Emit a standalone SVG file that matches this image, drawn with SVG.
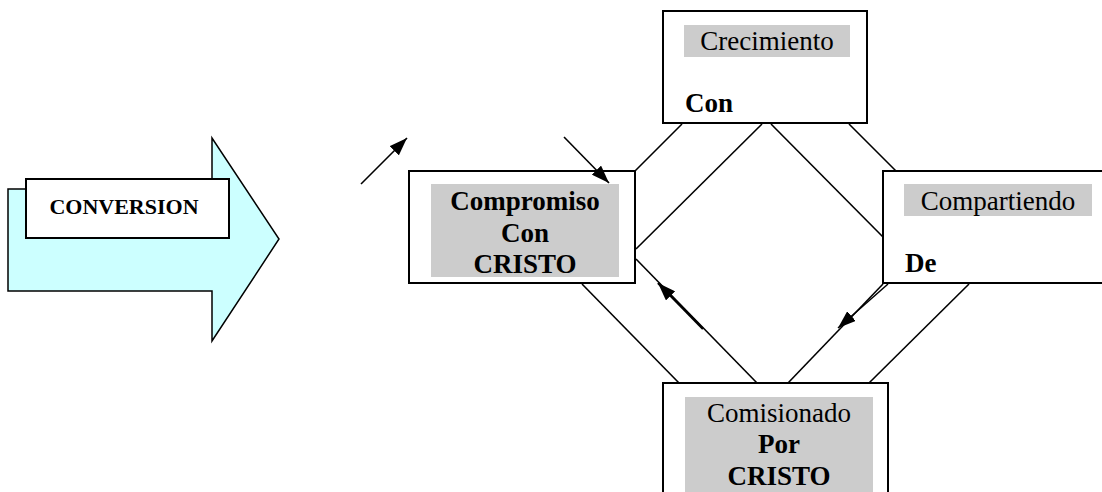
<svg xmlns="http://www.w3.org/2000/svg" width="1102" height="492" viewBox="0 0 1102 492">
<style>
.box{fill:#fff;stroke:#000;stroke-width:2}
.hl{fill:#cccccc}
text{font-family:'Liberation Serif','Times New Roman',Times,serif;font-size:27px;fill:#000}
.b{font-weight:bold}
.c{stroke:#000;stroke-width:1.6;fill:none}
</style>
<defs>
<marker id="ah2" viewBox="0 0 10 10" refX="10" refY="5" markerWidth="18" markerHeight="13" markerUnits="userSpaceOnUse" orient="auto" preserveAspectRatio="none">
<path d="M0,0 L10,5 L0,10 z" fill="#000"/>
</marker>
</defs>
<g id="conversion">
<polygon points="8,189 212,189 212,138 279,239 212,341 212,291 8,291" fill="#ccffff" stroke="#000" stroke-width="1.5"/>
<rect class="box" x="26" y="179" width="203" height="59"/>
<text class="b" x="124" y="214" text-anchor="middle" style="font-size:22px">CONVERSION</text>
</g>
<g id="crecimiento">
<rect class="box" x="663" y="11" width="204" height="112"/>
<rect class="hl" x="684" y="25" width="166" height="32"/>
<text x="767" y="50" text-anchor="middle">Crecimiento</text>
<text class="b" x="685" y="112">Con</text>
</g>
<g id="compromiso">
<rect class="box" x="409" y="171" width="226" height="112"/>
<rect class="hl" x="431" y="184" width="188" height="93"/>
<text class="b" x="525" y="210" text-anchor="middle">Compromiso</text>
<text class="b" x="525" y="242" text-anchor="middle">Con</text>
<text class="b" x="525" y="273" text-anchor="middle">CRISTO</text>
</g>
<g id="compartiendo">
<rect class="box" x="883" y="171" width="225" height="112"/>
<rect class="hl" x="904" y="184" width="188" height="32"/>
<text x="998" y="210" text-anchor="middle">Compartiendo</text>
<text class="b" x="905" y="272">De</text>
</g>
<g id="comisionado">
<rect class="box" x="663" y="383" width="225" height="120"/>
<rect class="hl" x="685" y="397" width="188" height="100"/>
<text x="779" y="422" text-anchor="middle">Comisionado</text>
<text class="b" x="779" y="453" text-anchor="middle">Por</text>
<text class="b" x="779" y="485" text-anchor="middle">CRISTO</text>
</g>
<g id="connectors">
<line class="c" x1="682" y1="124" x2="635" y2="171"/>
<line class="c" x1="849" y1="124" x2="896" y2="171"/>
<line class="c" x1="582" y1="284" x2="679" y2="383"/>
<line class="c" x1="969" y1="284" x2="869" y2="383"/>
<line class="c" x1="762" y1="124" x2="636" y2="249"/>
<line class="c" x1="771" y1="124" x2="883" y2="237"/>
<line class="c" x1="636" y1="259" x2="757" y2="383"/>
<line class="c" x1="883" y1="284" x2="788" y2="383"/>
<line class="c" x1="361" y1="184" x2="407" y2="138" marker-end="url(#ah2)"/>
<line class="c" x1="564" y1="137" x2="609" y2="183" marker-end="url(#ah2)"/>
<line x1="703" y1="329" x2="658" y2="283" stroke="#000" stroke-width="2.5" marker-end="url(#ah2)"/>
<line x1="888" y1="284" x2="838" y2="328" stroke="#000" stroke-width="1.5" marker-end="url(#ah2)"/>
</g>
</svg>
